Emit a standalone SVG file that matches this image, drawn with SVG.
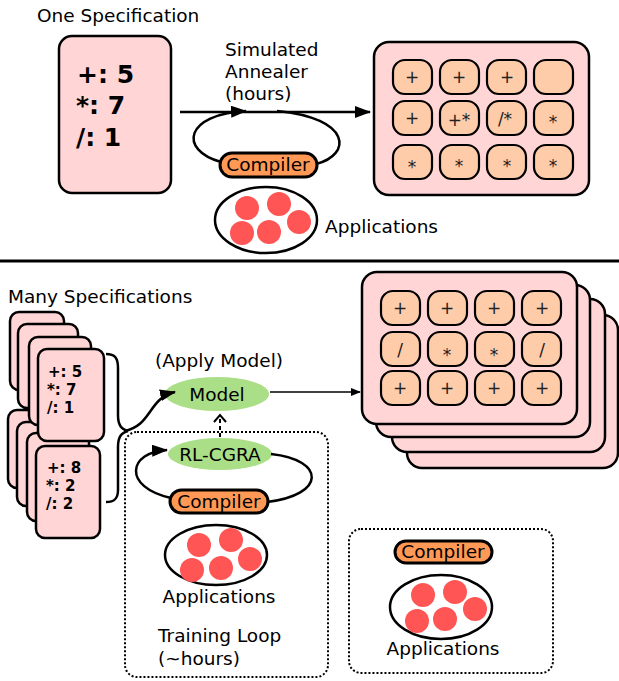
<svg xmlns="http://www.w3.org/2000/svg" width="619" height="681" viewBox="0 0 619 681">
<defs>
<style>
text{font-family:"DejaVu Sans","Liberation Sans",sans-serif;fill:#000}
.lbl{font-size:18.5px}
.spec{font-weight:bold;font-size:25px}
.specs{font-weight:bold;font-size:15px}
.card{fill:#ffd5d5;stroke:#000;stroke-width:2.5}
.grid{fill:#ffd5d5;stroke:#000;stroke-width:2.5}
.pe{fill:#ffccaa;stroke:#000;stroke-width:2.2}
.pet{font-size:17px;text-anchor:middle;fill:#222}
.comp{fill:#ff9955;stroke:#000;stroke-width:3}
.app{fill:#fff;stroke:#000;stroke-width:2.5}
.dot{fill:#ff5555}
.green{fill:#aade87}
.line{fill:none;stroke:#000;stroke-width:2.5}
.dotted{fill:none;stroke:#000;stroke-width:2;stroke-dasharray:2 2}
.mid{text-anchor:middle}
</style>
<marker id="ah" markerUnits="userSpaceOnUse" markerWidth="16" markerHeight="12" refX="15" refY="6" orient="auto">
<path d="M0,0 L16,6 L0,12 z" fill="#000"/>
</marker>
<marker id="ahs" markerUnits="userSpaceOnUse" markerWidth="10" markerHeight="8" refX="9" refY="4" orient="auto">
<path d="M0,0 L10,4 L0,8 z" fill="#000"/>
</marker>
</defs>

<!-- Top section -->
<text class="lbl" x="37" y="22">One Specification</text>
<g id="spec-one">
<rect class="card" x="59" y="36" width="112" height="157" rx="13"/>
<text class="spec" x="77" y="83">+: 5</text>
<text class="spec" x="76" y="114">*: 7</text>
<text class="spec" x="76" y="146">/: 1</text>
</g>

<g id="annealer-label">
<text class="lbl" x="225" y="56">Simulated</text>
<text class="lbl" x="225" y="78">Annealer</text>
<text class="lbl" x="225" y="100">(hours)</text>
</g>

<g id="compiler-top">
<rect class="comp" x="220" y="153" width="97" height="24" rx="12"/>
<text class="lbl mid" x="268" y="171">Compiler</text>
</g>

<g id="apps-top">
<ellipse class="app" cx="266" cy="220" rx="51" ry="33"/>
<circle class="dot" cx="247" cy="208" r="12"/>
<circle class="dot" cx="279" cy="204" r="12"/>
<circle class="dot" cx="299" cy="222" r="12"/>
<circle class="dot" cx="242" cy="233" r="12"/>
<circle class="dot" cx="269" cy="232" r="12"/>
<text class="lbl" x="325" y="233">Applications</text>
</g>

<g id="grid-top">
<rect class="grid" x="374" y="42" width="215" height="153" rx="15"/>
<rect class="pe" x="393" y="60" width="39" height="34" rx="12"/>
<rect class="pe" x="440" y="60" width="39" height="34" rx="12"/>
<rect class="pe" x="487" y="60" width="39" height="34" rx="12"/>
<rect class="pe" x="534" y="60" width="39" height="34" rx="12"/>
<rect class="pe" x="393" y="101" width="39" height="34" rx="12"/>
<rect class="pe" x="440" y="101" width="39" height="34" rx="12"/>
<rect class="pe" x="487" y="101" width="39" height="34" rx="12"/>
<rect class="pe" x="534" y="101" width="39" height="34" rx="12"/>
<rect class="pe" x="393" y="145" width="39" height="34" rx="12"/>
<rect class="pe" x="440" y="145" width="39" height="34" rx="12"/>
<rect class="pe" x="487" y="145" width="39" height="34" rx="12"/>
<rect class="pe" x="534" y="145" width="39" height="34" rx="12"/>
<text class="pet" x="412" y="83">+</text>
<text class="pet" x="459" y="83">+</text>
<text class="pet" x="507" y="83">+</text>
<text class="pet" x="412" y="124">+</text>
<text class="pet" x="459" y="126">+*</text>
<text class="pet" x="505" y="125">/*</text>
<text class="pet" x="553" y="128">*</text>
<text class="pet" x="412" y="173">*</text>
<text class="pet" x="459" y="172">*</text>
<text class="pet" x="507" y="172">*</text>
<text class="pet" x="553" y="172">*</text>
</g>

<line x1="0" y1="261" x2="619" y2="261" stroke="#000" stroke-width="3"/>

<!-- Bottom section -->
<text class="lbl" x="8" y="303">Many Specifications</text>

<g id="spec-stack-lower">
<rect class="card" x="8" y="410" width="54" height="78" rx="9"/>
<rect class="card" x="17" y="422" width="60" height="84" rx="9"/>
<rect class="card" x="27" y="433" width="62" height="88" rx="9"/>
<rect class="card" x="36" y="446" width="64" height="92" rx="9"/>
<text class="specs" x="47" y="473">+: 8</text>
<text class="specs" x="46" y="491">*: 2</text>
<text class="specs" x="46" y="509">/: 2</text>
</g>
<g id="spec-stack-upper">
<rect class="card" x="10" y="312" width="54" height="78" rx="9"/>
<rect class="card" x="18" y="324" width="60" height="84" rx="9"/>
<rect class="card" x="29" y="337" width="62" height="88" rx="9"/>
<rect class="card" x="38" y="349" width="66" height="92" rx="9"/>
<text class="specs" x="48" y="377">+: 5</text>
<text class="specs" x="47" y="395">*: 7</text>
<text class="specs" x="47" y="413">/: 1</text>
</g>

<g id="grid-stack">
<rect class="grid" x="407" y="315" width="211" height="153" rx="15"/>
<rect class="grid" x="392" y="299" width="213" height="153" rx="15"/>
<rect class="grid" x="376" y="285" width="214" height="152" rx="15"/>
<rect class="grid" x="362" y="272" width="215" height="152" rx="15"/>
<rect class="pe" x="381" y="291" width="39" height="34" rx="12"/>
<rect class="pe" x="428" y="291" width="39" height="34" rx="12"/>
<rect class="pe" x="475" y="291" width="39" height="34" rx="12"/>
<rect class="pe" x="522" y="291" width="39" height="34" rx="12"/>
<rect class="pe" x="381" y="332" width="39" height="34" rx="12"/>
<rect class="pe" x="428" y="332" width="39" height="34" rx="12"/>
<rect class="pe" x="475" y="332" width="39" height="34" rx="12"/>
<rect class="pe" x="522" y="332" width="39" height="34" rx="12"/>
<rect class="pe" x="381" y="371" width="39" height="34" rx="12"/>
<rect class="pe" x="428" y="371" width="39" height="34" rx="12"/>
<rect class="pe" x="475" y="371" width="39" height="34" rx="12"/>
<rect class="pe" x="522" y="371" width="39" height="34" rx="12"/>
<text class="pet" x="400" y="314">+</text>
<text class="pet" x="447" y="314">+</text>
<text class="pet" x="494" y="314">+</text>
<text class="pet" x="542" y="314">+</text>
<text class="pet" x="400" y="356">/</text>
<text class="pet" x="447" y="361">*</text>
<text class="pet" x="494" y="361">*</text>
<text class="pet" x="542" y="356">/</text>
<text class="pet" x="400" y="394">+</text>
<text class="pet" x="447" y="394">+</text>
<text class="pet" x="494" y="394">+</text>
<text class="pet" x="542" y="394">+</text>
</g>

<text class="lbl" x="155" y="367">(Apply Model)</text>
<g id="model">
<ellipse class="green" cx="217" cy="394" rx="52" ry="17"/>
<text class="lbl mid" x="217" y="401">Model</text>
</g>

<rect id="training-box" class="dotted" x="125" y="432" width="203" height="245" rx="12"/>

<g id="rl-cgra">
<ellipse class="green" cx="220" cy="454" rx="52" ry="16"/>
<text class="lbl mid" x="220" y="461">RL-CGRA</text>
</g>

<g id="compiler-train">
<rect class="comp" x="170" y="490" width="98" height="23" rx="11.5"/>
<text class="lbl mid" x="219" y="508">Compiler</text>
</g>

<g id="apps-train">
<ellipse class="app" cx="216" cy="555" rx="51" ry="30"/>
<circle class="dot" cx="199" cy="545" r="12"/>
<circle class="dot" cx="231" cy="540" r="12"/>
<circle class="dot" cx="250" cy="559" r="12"/>
<circle class="dot" cx="192" cy="570" r="12"/>
<circle class="dot" cx="221" cy="568" r="12"/>
<text class="lbl mid" x="219" y="603">Applications</text>
</g>
<text class="lbl" x="158" y="642">Training Loop</text>
<text class="lbl" x="158" y="665">(~hours)</text>

<g id="eval-box">
<rect class="dotted" x="349" y="529" width="204" height="144" rx="12"/>
<rect class="comp" x="395" y="541" width="97" height="22" rx="11"/>
<text class="lbl mid" x="443" y="558">Compiler</text>
<ellipse class="app" cx="441" cy="607" rx="51" ry="32"/>
<circle class="dot" cx="423" cy="595" r="12"/>
<circle class="dot" cx="455" cy="592" r="12"/>
<circle class="dot" cx="475" cy="609" r="12"/>
<circle class="dot" cx="417" cy="621" r="12"/>
<circle class="dot" cx="445" cy="619" r="12"/>
<text class="lbl mid" x="443" y="655">Applications</text>
</g>

<g id="connectors">
<line class="line" x1="180" y1="112" x2="370" y2="112" marker-end="url(#ah)"/>
<path class="line" d="M221,162 C178,150 185,114 246,111" marker-end="url(#ah)"/>
<path class="line" d="M277,111 C352,118 352,155 316,164"/>
<path class="line" d="M106,354 C115,354 118,358 118,368 L118,415 C118,425 121,429 128,431"/>
<path class="line" d="M128,431 C121,433 118,437 118,447 L118,490 C118,498 115,502 106,502"/>
<path class="line" d="M124,431 C152,426 148,398 175,392" marker-end="url(#ah)"/>
<line x1="270" y1="392" x2="360" y2="392" stroke="#000" stroke-width="1.5" marker-end="url(#ahs)"/>
<line x1="220" y1="437" x2="220" y2="416" stroke="#000" stroke-width="2" stroke-dasharray="4 3"/>
<path d="M214,422 L220,415 L226,422" fill="none" stroke="#000" stroke-width="2"/>
<path class="line" d="M171,498 C122,487 128,452 167,450" marker-end="url(#ah)"/>
<path class="line" d="M271,454 C326,460 326,495 267,502"/>
</g>
</svg>
